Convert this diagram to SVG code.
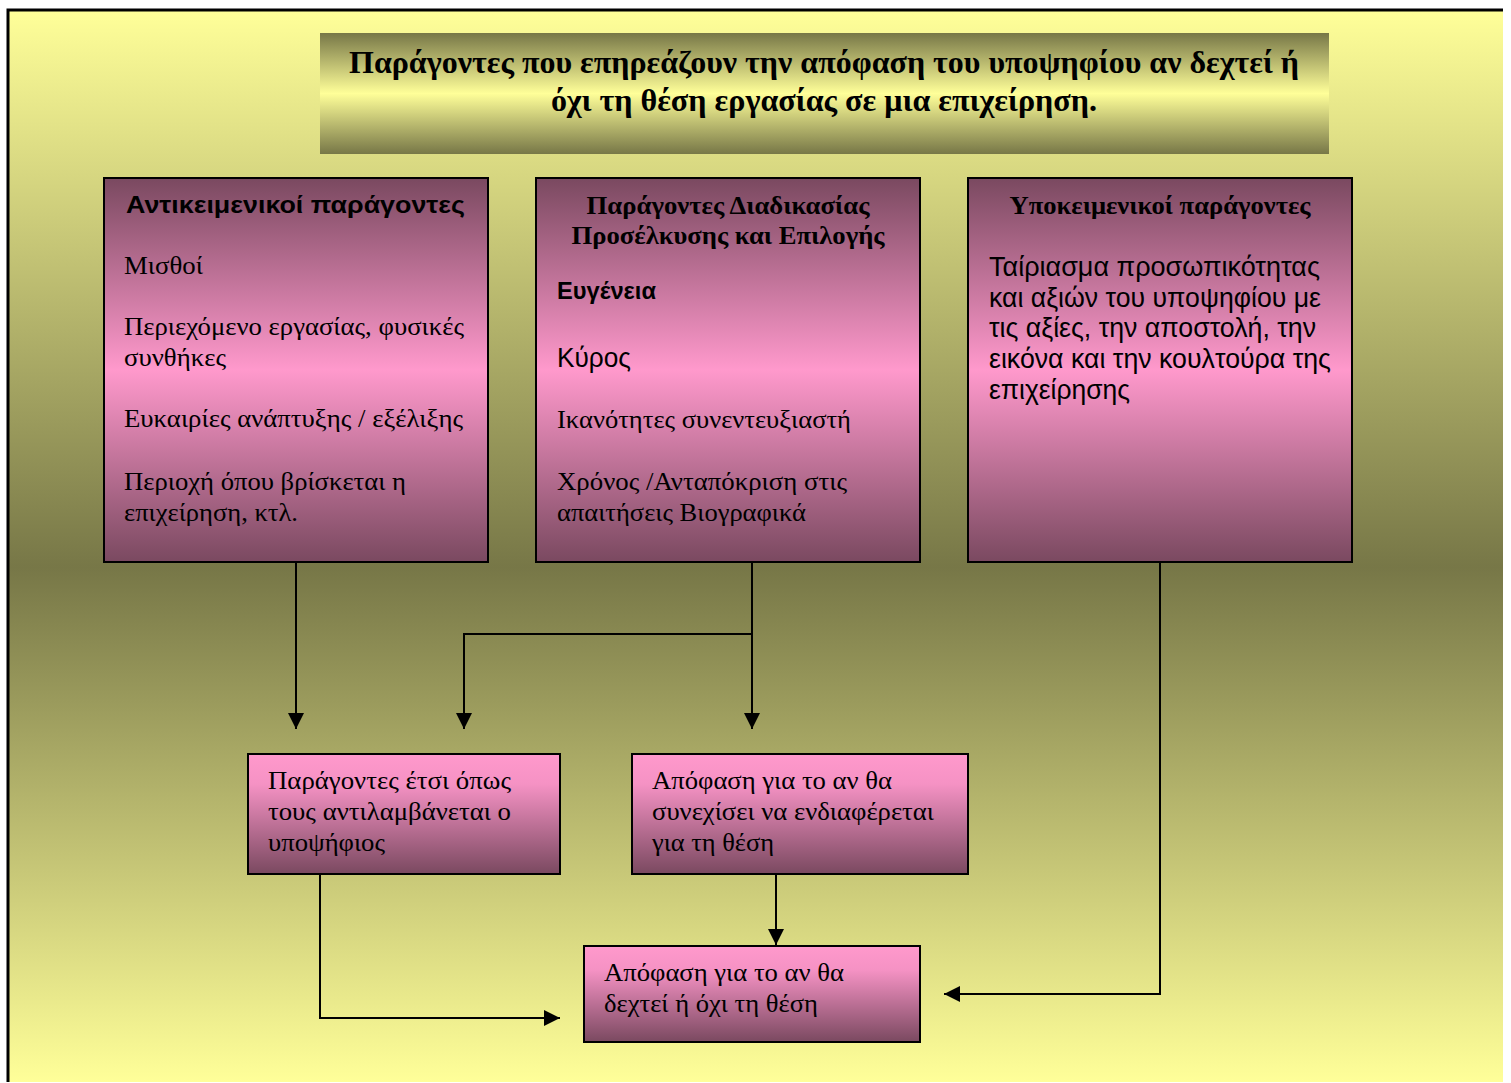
<svg xmlns="http://www.w3.org/2000/svg" width="1511" height="1083" viewBox="0 0 1511 1083">
  <defs>
    <linearGradient id="bg" x1="0" y1="0" x2="0" y2="1">
      <stop offset="0" stop-color="#FFFF99"/>
      <stop offset="0.52" stop-color="#777747"/>
      <stop offset="1" stop-color="#FFFF99"/>
    </linearGradient>
    <linearGradient id="titleg" x1="0" y1="0" x2="0" y2="1">
      <stop offset="0" stop-color="#777747"/>
      <stop offset="0.5" stop-color="#FFFF99"/>
      <stop offset="1" stop-color="#777747"/>
    </linearGradient>
    <linearGradient id="boxg" x1="0" y1="0" x2="0" y2="1">
      <stop offset="0" stop-color="#7A4960"/>
      <stop offset="0.5" stop-color="#FF99CC"/>
      <stop offset="1" stop-color="#7A4960"/>
    </linearGradient>
    <linearGradient id="boxg2" x1="0" y1="0" x2="0" y2="1">
      <stop offset="0" stop-color="#FF99CC"/>
      <stop offset="0.25" stop-color="#F592C4"/>
      <stop offset="1" stop-color="#7A4960"/>
    </linearGradient>
    <marker id="arr" markerWidth="16" markerHeight="16" viewBox="0 0 16 16" refX="16" refY="8" orient="auto" markerUnits="userSpaceOnUse">
      <path d="M0,0 L16,8 L0,16 Z" fill="#000"/>
    </marker>
  </defs>
  <style>
    .box { stroke: #000; stroke-width: 2; }
    .serif { font-family: "Liberation Serif", "Times New Roman", serif; font-size: 26px; fill: #000; }
    .sans { font-family: "Liberation Sans", Arial, sans-serif; font-size: 27px; fill: #000; }
    .sb { font-family: "Liberation Sans", Arial, sans-serif; font-weight: bold; font-size: 24px; fill: #000; }
    .bs { font-family: "Liberation Serif", "Times New Roman", serif; font-weight: bold; font-size: 26px; fill: #000; }
    .tt { font-family: "Liberation Serif", "Times New Roman", serif; font-weight: bold; font-size: 31px; fill: #000; }
    .conn { fill: none; stroke: #000; stroke-width: 2; }
  </style>

  <rect x="8" y="10" width="1495" height="1072" fill="url(#bg)"/>
  <path d="M8,1082 L8,10 L1503,10" fill="none" stroke="#000" stroke-width="3"/>

  <g id="title">
    <rect x="320" y="33" width="1009" height="121" fill="url(#titleg)"/>
    <text class="tt" x="824" y="73" text-anchor="middle" textLength="950" lengthAdjust="spacingAndGlyphs">Παράγοντες που επηρεάζουν την απόφαση του υποψηφίου αν δεχτεί ή</text>
    <text class="tt" x="824" y="111" text-anchor="middle" textLength="546" lengthAdjust="spacingAndGlyphs">όχι τη θέση εργασίας σε μια επιχείρηση.</text>
  </g>

  <g id="node-objective">
    <rect class="box" x="104" y="178" width="384" height="384" fill="url(#boxg)"/>
    <text class="sb" x="126" y="213" textLength="339" lengthAdjust="spacingAndGlyphs">Αντικειμενικοί παράγοντες</text>
    <text class="serif" x="124" y="274" textLength="79" lengthAdjust="spacingAndGlyphs">Μισθοί</text>
    <text class="serif" x="124" y="335" textLength="340" lengthAdjust="spacingAndGlyphs">Περιεχόμενο εργασίας, φυσικές</text>
    <text class="serif" x="124" y="366" textLength="102" lengthAdjust="spacingAndGlyphs">συνθήκες</text>
    <text class="serif" x="124" y="427" textLength="339" lengthAdjust="spacingAndGlyphs">Ευκαιρίες ανάπτυξης / εξέλιξης</text>
    <text class="serif" x="124" y="490" textLength="282" lengthAdjust="spacingAndGlyphs">Περιοχή όπου βρίσκεται η</text>
    <text class="serif" x="124" y="521" textLength="174" lengthAdjust="spacingAndGlyphs">επιχείρηση, κτλ.</text>
  </g>

  <g id="node-process">
    <rect class="box" x="536" y="178" width="384" height="384" fill="url(#boxg)"/>
    <text class="bs" x="728" y="214" text-anchor="middle" textLength="283" lengthAdjust="spacingAndGlyphs">Παράγοντες Διαδικασίας</text>
    <text class="bs" x="728" y="244" text-anchor="middle" textLength="313" lengthAdjust="spacingAndGlyphs">Προσέλκυσης και Επιλογής</text>
    <text class="sb" style="font-size:23px" x="557" y="299" textLength="99" lengthAdjust="spacingAndGlyphs">Ευγένεια</text>
    <text class="sans" x="557" y="367" textLength="74" lengthAdjust="spacingAndGlyphs">Κύρος</text>
    <text class="serif" x="557" y="428" textLength="294" lengthAdjust="spacingAndGlyphs">Ικανότητες συνεντευξιαστή</text>
    <text class="serif" x="557" y="490" textLength="290" lengthAdjust="spacingAndGlyphs">Χρόνος /Ανταπόκριση στις</text>
    <text class="serif" x="557" y="521" textLength="249" lengthAdjust="spacingAndGlyphs">απαιτήσεις Βιογραφικά</text>
  </g>

  <g id="node-subjective">
    <rect class="box" x="968" y="178" width="384" height="384" fill="url(#boxg)"/>
    <text class="bs" x="1160" y="214" text-anchor="middle" textLength="301" lengthAdjust="spacingAndGlyphs">Υποκειμενικοί παράγοντες</text>
    <text class="sans" x="989" y="276" textLength="331" lengthAdjust="spacingAndGlyphs">Ταίριασμα προσωπικότητας</text>
    <text class="sans" x="989" y="307" textLength="332" lengthAdjust="spacingAndGlyphs">και αξιών του υποψηφίου με</text>
    <text class="sans" x="989" y="337" textLength="327" lengthAdjust="spacingAndGlyphs">τις αξίες, την αποστολή, την</text>
    <text class="sans" x="989" y="368" textLength="342" lengthAdjust="spacingAndGlyphs">εικόνα και την κουλτούρα της</text>
    <text class="sans" x="989" y="399" textLength="141" lengthAdjust="spacingAndGlyphs">επιχείρησης</text>
  </g>

  <g id="node-perceived">
    <rect class="box" x="248" y="754" width="312" height="120" fill="url(#boxg2)"/>
    <text class="serif" x="268" y="789" textLength="243" lengthAdjust="spacingAndGlyphs">Παράγοντες έτσι όπως</text>
    <text class="serif" x="268" y="820" textLength="243" lengthAdjust="spacingAndGlyphs">τους αντιλαμβάνεται ο</text>
    <text class="serif" x="268" y="851" textLength="117" lengthAdjust="spacingAndGlyphs">υποψήφιος</text>
  </g>

  <g id="node-continue">
    <rect class="box" x="632" y="754" width="336" height="120" fill="url(#boxg2)"/>
    <text class="serif" x="652" y="789" textLength="240" lengthAdjust="spacingAndGlyphs">Απόφαση για το αν θα</text>
    <text class="serif" x="652" y="820" textLength="282" lengthAdjust="spacingAndGlyphs">συνεχίσει να ενδιαφέρεται</text>
    <text class="serif" x="652" y="851" textLength="122" lengthAdjust="spacingAndGlyphs">για τη θέση</text>
  </g>

  <g id="node-decision">
    <rect class="box" x="584" y="946" width="336" height="96" fill="url(#boxg2)"/>
    <text class="serif" x="604" y="981" textLength="240" lengthAdjust="spacingAndGlyphs">Απόφαση για το αν θα</text>
    <text class="serif" x="604" y="1012" textLength="214" lengthAdjust="spacingAndGlyphs">δεχτεί ή όχι τη θέση</text>
  </g>

  <g id="connectors">
    <path class="conn" d="M296,563 L296,729" marker-end="url(#arr)"/>
    <path class="conn" d="M752,563 L752,729" marker-end="url(#arr)"/>
    <path class="conn" d="M752,634 L464,634 L464,729" marker-end="url(#arr)"/>
    <path class="conn" d="M320,875 L320,1018 L560,1018" marker-end="url(#arr)"/>
    <path class="conn" d="M776,875 L776,945" marker-end="url(#arr)"/>
    <path class="conn" d="M1160,563 L1160,994 L944,994" marker-end="url(#arr)"/>
  </g>
</svg>
